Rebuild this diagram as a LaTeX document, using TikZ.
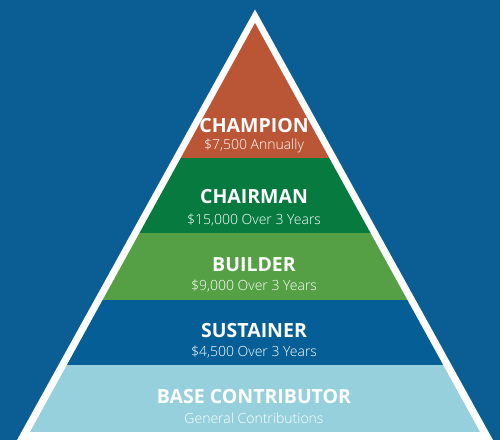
\documentclass[tikz,border=0pt]{standalone}
\usepackage{fontspec}
\setmainfont{Open Sans}
\newfontfamily\lightfont{Open Sans Light}
\definecolor{bg}{HTML}{0A5E93}
\definecolor{champ}{HTML}{BA5536}
\definecolor{chair}{HTML}{077A40}
\definecolor{build}{HTML}{55A045}
\definecolor{sust}{HTML}{055F96}
\definecolor{base}{HTML}{96D0DC}
\tikzset{
  title/.style={text=white, font=\bfseries\fontsize{19.5}{21}\selectfont, inner sep=0pt, anchor=base},
  sub/.style={text=white, font=\lightfont\fontsize{14}{16}\selectfont, inner sep=0pt, anchor=base},
}
\begin{document}
\begin{tikzpicture}[x=1pt,y=-1pt]
\useasboundingbox (0,0) rectangle (500,440);
\fill[bg] (0,0) rectangle (500,440);
\fill[white] (255,9.5) -- (504,460) -- (6,460) -- cycle;
\begin{scope}
  \clip (255,23) -- (480,432) -- (30,432) -- cycle;
  \fill[champ] (0,0) rectangle (500,158);
  \fill[chair] (0,158) rectangle (500,233);
  \fill[build] (0,233) rectangle (500,300);
  \fill[sust] (0,300) rectangle (500,365);
  \fill[base] (0,365) rectangle (500,432);
\end{scope}
\node[title] (t1) at (254,132) {CHAMPION};
\node[sub] (s1) at (254,149) {\$7,500 Annually};
\node[title] (t2) at (254,203) {CHAIRMAN};
\node[sub] (s2) at (254,224) {\$15,000 Over 3 Years};
\node[title] (t3) at (254,271) {BUILDER};
\node[sub] (s3) at (254,290) {\$9,000 Over 3 Years};
\node[title] (t4) at (254,337) {SUSTAINER};
\node[sub] (s4) at (254,356) {\$4,500 Over 3 Years};
\node[title] (t5) at (254,403) {BASE CONTRIBUTOR};
\node[sub] (s5) at (254,423) {General Contributions};
\end{tikzpicture}
\end{document}
